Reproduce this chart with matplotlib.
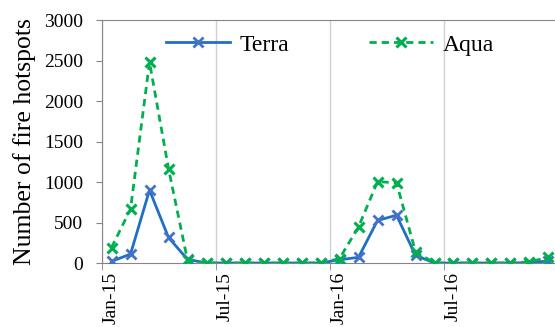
import matplotlib
matplotlib.use("Agg")
import matplotlib.pyplot as plt
import numpy as np

plt.rcParams['font.family'] = ['Liberation Serif', 'DejaVu Serif']

months = ['Jan-15', 'Feb-15', 'Mar-15', 'Apr-15', 'May-15', 'Jun-15',
          'Jul-15', 'Aug-15', 'Sep-15', 'Oct-15', 'Nov-15', 'Dec-15',
          'Jan-16', 'Feb-16', 'Mar-16', 'Apr-16', 'May-16', 'Jun-16',
          'Jul-16', 'Aug-16', 'Sep-16', 'Oct-16', 'Nov-16', 'Dec-16']
terra = [20, 110, 900, 315, 45, 0,
         0, 0, 0, 0, 0, 0,
         40, 70, 525, 590, 95, 0,
         0, 0, 0, 0, 5, 25]
aqua = [190, 665, 2480, 1165, 35, 0,
        0, 0, 0, 0, 0, 0,
        55, 445, 1005, 990, 140, 0,
        0, 0, 0, 0, 15, 70]

x = np.arange(len(months))

fig = plt.figure(figsize=(5.55, 3.27), dpi=100)
ax = fig.add_axes([0.1838, 0.1957, 0.8216, 0.743])

ax.plot(x, terra, color='#1F6FC5', lw=2, marker='x', ms=7, mew=2,
        mec='#4472C4', label='Terra', zorder=3)
ax.plot(x, aqua, color='#00B050', lw=2, ls=(0, (2.6, 1.8)), marker='x', ms=7,
        mew=2.2, mec='#00B050', label='Aqua', zorder=3)

ax.set_xlim(-0.5, 23.5)
ax.set_ylim(0, 3000)
ax.set_yticks(np.arange(0, 3001, 500))

# labels every six months at category centres, ticks on the boundaries
ax.set_xticks(x[::6])
ax.set_xticklabels(months[::6], rotation=90)
ax.set_xticks(np.arange(-0.5, 24, 6), minor=True)
ax.tick_params(axis='x', which='major', length=0, labelsize=14, pad=6.5)
ax.tick_params(axis='x', which='minor', length=5, color='#868686')
ax.tick_params(axis='y', length=4.5, color='#868686', labelsize=14, pad=9)
ax.grid(axis='x', which='minor', color='#D0D0D0', lw=1)
ax.set_axisbelow(True)

for side in ['left', 'bottom', 'top']:
    ax.spines[side].set_color('#868686')
ax.spines['right'].set_visible(False)

ax.set_ylabel('Number of fire hotspots', fontsize=18.5, labelpad=6)

ax.legend(loc='upper center', bbox_to_anchor=(0.5, 1.03), ncol=2,
          frameon=False, fontsize=17, handlelength=2.7, columnspacing=3.4,
          handletextpad=0.4)

fig.savefig('out.png', dpi=100)
